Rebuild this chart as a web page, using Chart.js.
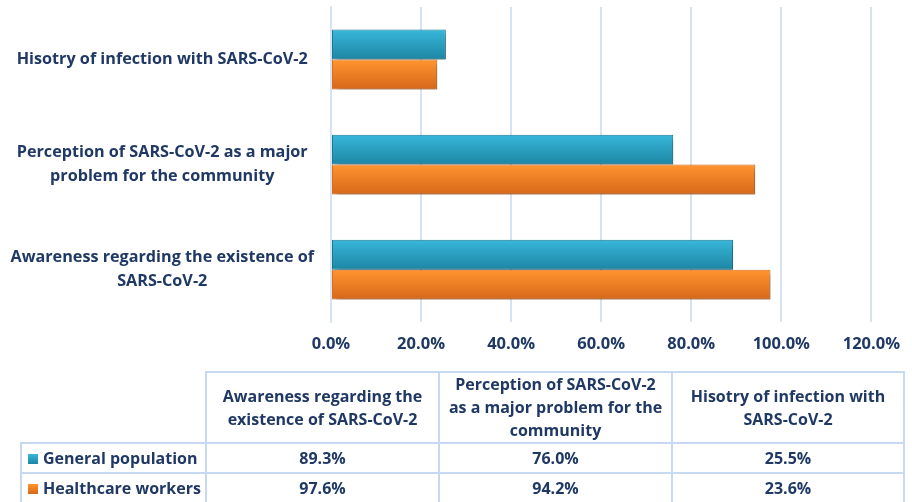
<!DOCTYPE html>
<html>
<head>
<meta charset="utf-8">
<script src="https://cdn.jsdelivr.net/npm/chart.js@4.4.1/dist/chart.umd.min.js"></script>
<style>
    html, body { margin: 0; padding: 0; background: #fff; }
    body { width: 912px; height: 502px; position: relative; overflow: hidden; font-family: 'Open Sans', sans-serif; }
    #chartWrap { position: absolute; left: 0; top: 0; width: 912px; height: 376px; }
    #dataTable {
        position: absolute; left: 20px; top: 371px;
        border-collapse: collapse; table-layout: fixed;
        color: #1f3864; font-weight: bold; font-size: 16px;
    }
    #dataTable td { border: 2px solid #c6d9f1; text-align: center; padding: 0; white-space: nowrap; }
    #dataTable td.blank { border: none; }
    #dataTable td.series { text-align: left; padding-left: 6px; }
    #dataTable tr.head td { height: 69px; line-height: 23px; }
    #dataTable tr.row td { height: 28px; line-height: 28px; }
    .swatch { display: inline-block; width: 10px; height: 10px; margin-right: 5px; vertical-align: 0px; }
</style>
</head>
<body>
<div id="chartWrap"><canvas id="barChart"></canvas></div>
<table id="dataTable"></table>
<script>
// Categories as they appear in the data table (left to right)
const categories = [
    'Awareness regarding the existence of SARS-CoV-2',
    'Perception of SARS-CoV-2 as a major problem for the community',
    'Hisotry of infection with SARS-CoV-2'
];
// Axis labels, wrapped like the original
const axisLabels = [
    ['Awareness regarding the existence of', 'SARS-CoV-2'],
    ['Perception of SARS-CoV-2 as a major', 'problem for the community'],
    ['Hisotry of infection with SARS-CoV-2']
];
// Table header wrapping
const headerLabels = [
    ['Awareness regarding the', 'existence of SARS-CoV-2'],
    ['Perception of SARS-CoV-2', 'as a major problem for the', 'community'],
    ['Hisotry of infection with', 'SARS-CoV-2']
];
const seriesNames = ['General population', 'Healthcare workers'];
const generalPopulation = [89.3, 76.0, 25.5];
const healthcareWorkers = [97.6, 94.2, 23.6];
const xTicks = [0, 20, 40, 60, 80, 100, 120];

const navy = '#1f3864';
const gridColor = '#d6e3f3';
const fontFamily = "'Open Sans', sans-serif";
const palettes = [
    { top: '#38b7da', bottom: '#1d86a4', border: '#1a7c98' },
    { top: '#ff952f', bottom: '#d7671a', border: '#e2701c' }
];
const catPct = 0.57;

function barGradient(ctx) {
    const chart = ctx.chart;
    const pal = palettes[ctx.datasetIndex];
    const y = chart.scales && chart.scales.y;
    if (!y || y.top === undefined || ctx.dataIndex === undefined) return pal.top;
    const center = y.getPixelForValue(ctx.dataIndex);
    const band = Math.abs(y.getPixelForValue(1) - y.getPixelForValue(0));
    const barH = band * catPct / 2;
    const top = center - band * catPct / 2 + ctx.datasetIndex * barH;
    if (!isFinite(top)) return pal.top;
    const g = chart.ctx.createLinearGradient(0, top, 0, top + barH);
    g.addColorStop(0, pal.top);
    g.addColorStop(1, pal.bottom);
    return g;
}

// soft drop shadow under the bars
const barShadow = {
    id: 'barShadow',
    beforeDatasetsDraw(chart) {
        const c = chart.ctx;
        c.save();
        c.shadowColor = 'rgba(0,0,0,0.35)';
        c.shadowBlur = 5;
        c.shadowOffsetX = 3;
        c.shadowOffsetY = 3;
    },
    afterDatasetsDraw(chart) {
        chart.ctx.restore();
    }
};

const seriesValues = [generalPopulation, healthcareWorkers];

new Chart(document.getElementById('barChart'), {
    type: 'bar',
    data: {
        labels: axisLabels,
        datasets: seriesNames.map((name, i) => ({
            label: name,
            data: seriesValues[i],
            backgroundColor: barGradient,
            borderColor: palettes[i].border,
            borderWidth: 1,
            borderSkipped: false,
            categoryPercentage: catPct,
            barPercentage: 1
        }))
    },
    options: {
        indexAxis: 'y',
        responsive: true,
        maintainAspectRatio: false,
        animation: false,
        layout: { padding: { left: 0, right: 33, top: 7, bottom: 10 } },
        plugins: {
            legend: { display: false },
            tooltip: { enabled: false }
        },
        scales: {
            x: {
                min: xTicks[0],
                max: xTicks[xTicks.length - 1],
                afterBuildTicks: (scale) => { scale.ticks = xTicks.map(v => ({ value: v })); },
                grid: { color: gridColor, lineWidth: 2, drawTicks: false },
                border: { display: false },
                ticks: {
                    padding: 12,
                    color: navy,
                    font: { family: fontFamily, size: 16.5, weight: 'bold' },
                    callback: (v) => v.toFixed(1) + '%'
                }
            },
            y: {
                reverse: true,
                afterFit: (scale) => {
                    scale.width = 331;
                    scale.paddingTop = 0;
                    scale.paddingBottom = 0;
                },
                grid: { display: false, drawTicks: false },
                border: { display: true, color: gridColor, width: 2 },
                ticks: {
                    padding: 17,
                    crossAlign: 'center',
                    color: navy,
                    font: { family: fontFamily, size: 16.2, weight: 'bold', lineHeight: 1.47 }
                }
            }
        }
    },
    plugins: [barShadow]
});

// data table under the chart
const table = document.getElementById('dataTable');
const colWidths = [185, 233, 233, 232];
const colgroup = document.createElement('colgroup');
colWidths.forEach(w => {
    const col = document.createElement('col');
    col.style.width = w + 'px';
    colgroup.appendChild(col);
});
table.appendChild(colgroup);

const head = document.createElement('tr');
head.className = 'head';
const blank = document.createElement('td');
blank.className = 'blank';
head.appendChild(blank);
headerLabels.forEach(lines => {
    const td = document.createElement('td');
    td.innerHTML = lines.join('<br>');
    head.appendChild(td);
});
table.appendChild(head);

seriesNames.forEach((name, i) => {
    const tr = document.createElement('tr');
    tr.className = 'row';
    const label = document.createElement('td');
    label.className = 'series';
    const sw = document.createElement('span');
    sw.className = 'swatch';
    sw.style.background = `linear-gradient(${palettes[i].top}, ${palettes[i].bottom})`;
    label.appendChild(sw);
    label.appendChild(document.createTextNode(name));
    tr.appendChild(label);
    seriesValues[i].forEach(v => {
        const td = document.createElement('td');
        td.textContent = v.toFixed(1) + '%';
        tr.appendChild(td);
    });
    table.appendChild(tr);
});
</script>
</body>
</html>
